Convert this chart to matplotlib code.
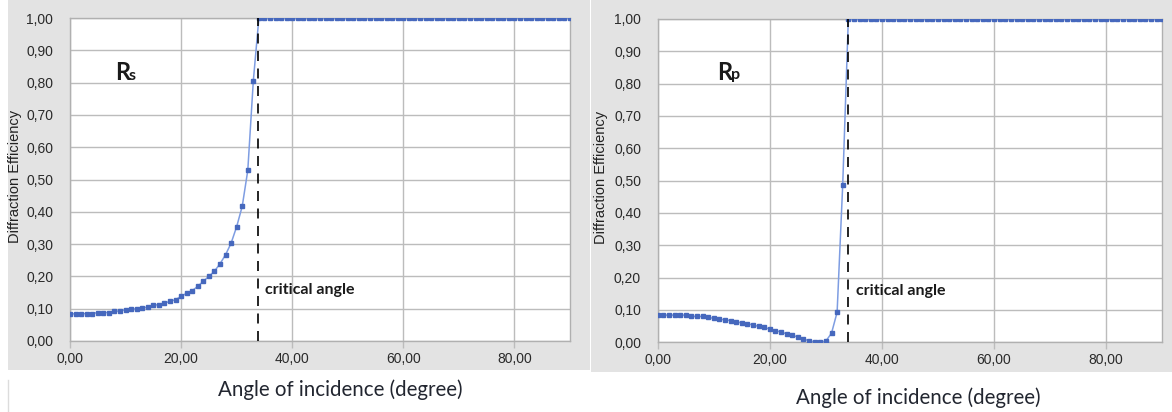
import matplotlib
matplotlib.use("Agg")
import matplotlib.pyplot as plt
from matplotlib.patches import Rectangle
from matplotlib.lines import Line2D

# ---------------- data ----------------
angles = list(range(0, 91))

rs_values = [0.084, 0.084, 0.084, 0.085, 0.085, 0.088, 0.088, 0.088, 0.092, 0.093,
             0.097, 0.098, 0.100, 0.102, 0.105, 0.110, 0.113, 0.117, 0.123, 0.128,
             0.138, 0.148, 0.156, 0.169, 0.185, 0.200, 0.216, 0.239, 0.267, 0.303,
             0.354, 0.417, 0.528, 0.806, 1.000, 1.000, 1.000, 1.000, 1.000, 1.000,
             1.000, 1.000, 1.000, 1.000, 1.000, 1.000, 1.000, 1.000, 1.000, 1.000,
             1.000, 1.000, 1.000, 1.000, 1.000, 1.000, 1.000, 1.000, 1.000, 1.000,
             1.000, 1.000, 1.000, 1.000, 1.000, 1.000, 1.000, 1.000, 1.000, 1.000,
             1.000, 1.000, 1.000, 1.000, 1.000, 1.000, 1.000, 1.000, 1.000, 1.000,
             1.000, 1.000, 1.000, 1.000, 1.000, 1.000, 1.000, 1.000, 1.000, 1.000,
             1.000]

rp_values = [0.084, 0.084, 0.084, 0.084, 0.084, 0.084, 0.080, 0.080, 0.080, 0.077,
             0.074, 0.071, 0.070, 0.067, 0.062, 0.061, 0.057, 0.054, 0.049, 0.046,
             0.041, 0.036, 0.032, 0.026, 0.022, 0.016, 0.010, 0.005, 0.001, 0.000,
             0.004, 0.028, 0.093, 0.488, 1.000, 1.000, 1.000, 1.000, 1.000, 1.000,
             1.000, 1.000, 1.000, 1.000, 1.000, 1.000, 1.000, 1.000, 1.000, 1.000,
             1.000, 1.000, 1.000, 1.000, 1.000, 1.000, 1.000, 1.000, 1.000, 1.000,
             1.000, 1.000, 1.000, 1.000, 1.000, 1.000, 1.000, 1.000, 1.000, 1.000,
             1.000, 1.000, 1.000, 1.000, 1.000, 1.000, 1.000, 1.000, 1.000, 1.000,
             1.000, 1.000, 1.000, 1.000, 1.000, 1.000, 1.000, 1.000, 1.000, 1.000,
             1.000]

critical_angle = 33.9

x_ticks = [0, 20, 40, 60, 80]
x_tick_labels = ["0,00", "20,00", "40,00", "60,00", "80,00"]
y_ticks = [0.0, 0.1, 0.2, 0.3, 0.4, 0.5, 0.6, 0.7, 0.8, 0.9, 1.0]
y_tick_labels = ["0,00", "0,10", "0,20", "0,30", "0,40", "0,50",
                 "0,60", "0,70", "0,80", "0,90", "1,00"]

x_label = "Angle of incidence (degree)"
y_label = "Diffraction Efficiency"
annotation = "critical angle"

# ---------------- figure ----------------
W, H = 1172, 412
fig = plt.figure(figsize=(W / 100, H / 100), dpi=100)
fig.patch.set_facecolor("white")


def fx(px):
    return px / W


def fy(py):
    return 1 - py / H


BG = "#e3e3e3"
fig.patches.append(Rectangle((fx(8), fy(370)), fx(581.5), 370 / H,
                             transform=fig.transFigure, facecolor=BG,
                             edgecolor="none", zorder=-10))
fig.patches.append(Rectangle((fx(591), fy(372)), fx(581), 372 / H,
                             transform=fig.transFigure, facecolor=BG,
                             edgecolor="none", zorder=-10))
fig.lines.append(Line2D([fx(8), fx(8)], [fy(380), fy(412)],
                        transform=fig.transFigure, color="#dcdcdc", lw=1,
                        zorder=-5))

LINE_C = "#7e9de2"
MARK_C = "#4668bd"
GRID_C = "#bcbcbc"
TICK_FONT = "Liberation Sans"
LABEL_FONT = ["Lato", "DejaVu Sans"]


def make_panel(rect, values, main, sub, sub_dy, lab_xy, crit_text_x, crit_text_y,
               ylabel_x, xlabel_xy):
    l, b, r, t = rect
    ax = fig.add_axes([fx(l), fy(b), fx(r) - fx(l), fy(t) - fy(b)])
    ax.set_zorder(2)
    ax.set_facecolor("white")
    ax.set_xlim(0, 90)
    ax.set_ylim(0, 1)
    ax.set_xticks(x_ticks)
    ax.set_xticklabels(x_tick_labels, fontfamily=TICK_FONT, fontsize=10,
                       color="#2a2a2a")
    ax.set_yticks(y_ticks)
    ax.set_yticklabels(y_tick_labels, fontfamily=TICK_FONT, fontsize=10,
                       color="#2a2a2a")
    ax.tick_params(axis="y", length=0, pad=12)
    ax.tick_params(axis="x", length=5, width=1, color=GRID_C, pad=3)
    ax.grid(True, color=GRID_C, lw=1.0)
    ax.set_axisbelow(True)
    for s in ax.spines.values():
        s.set_color("#b0b0b0")
        s.set_linewidth(1.0)

    ax.plot(angles, values, color=LINE_C, lw=1.1, marker="s", ms=2.7,
            mfc=MARK_C, mec=MARK_C, clip_on=True, zorder=3)
    ax.axvline(critical_angle, color="black", lw=1.2, dashes=(6, 4.5), zorder=4)

    fig.text(fx(ylabel_x), fy((b + t) / 2 - 3), y_label, fontfamily=TICK_FONT,
             fontsize=10.5, color="#222222", rotation=90, ha="center",
             va="center", zorder=5)

    fig.text(fx(lab_xy[0]), fy(lab_xy[1]), main, fontfamily=LABEL_FONT,
             fontweight="bold", fontsize=17, color="#1a1a1a", va="baseline",
             zorder=5)
    fig.text(fx(lab_xy[0] + 13.5), fy(lab_xy[1] + sub_dy), sub,
             fontfamily=LABEL_FONT, fontweight="bold", fontsize=11.5,
             color="#1a1a1a", va="baseline", zorder=5)

    fig.text(fx(crit_text_x), fy(crit_text_y), annotation, fontfamily=LABEL_FONT,
             fontweight="bold", fontsize=11.5, color="#1a1a1a", va="center",
             ha="left", zorder=5)
    fig.text(fx(xlabel_xy[0]), fy(xlabel_xy[1]), x_label, fontfamily=LABEL_FONT,
             fontsize=14.8, color="#222630", va="center", ha="center")
    return ax


make_panel((70, 341, 570, 18), rs_values, "R", "s", 0, (115, 80), 265, 290,
           15, (340, 390))
make_panel((657.7, 342.3, 1162.3, 19), rp_values, "R", "p", -1, (717, 80), 856,
           291, 601, (918, 398))

fig.savefig("out.png", dpi=100, facecolor="white")
